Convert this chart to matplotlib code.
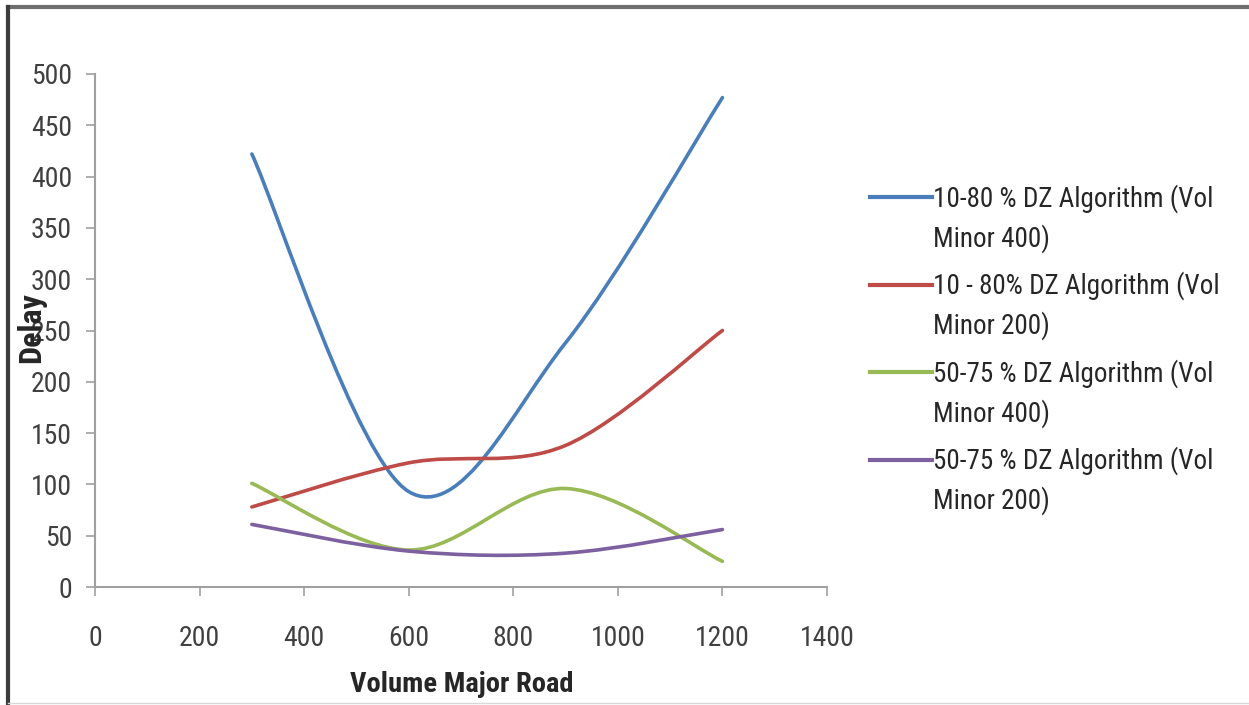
import matplotlib
matplotlib.use("Agg")
import matplotlib.pyplot as plt
from matplotlib.path import Path
from matplotlib.patches import PathPatch
from matplotlib.lines import Line2D
from matplotlib import font_manager

# volumes on the major road and delay for each run
volume_major = [300, 600, 900, 1200]
delay_1080_400 = [422, 93, 238, 477]
delay_1080_200 = [78, 121, 138, 250]
delay_5075_400 = [101, 36, 96, 25]
delay_5075_200 = [61, 35, 33, 56]

series_labels = [
    ["10-80 % DZ Algorithm (Vol", "Minor 400)"],
    ["10 - 80% DZ Algorithm (Vol", "Minor 200)"],
    ["50-75 % DZ Algorithm (Vol", "Minor 400)"],
    ["50-75 % DZ Algorithm (Vol", "Minor 200)"],
]
series_colors = ["#4a7ebb", "#be4b48", "#98b954", "#7d60a0"]
x_ticks = [0, 200, 400, 600, 800, 1000, 1200, 1400]
y_ticks = [0, 50, 100, 150, 200, 250, 300, 350, 400, 450, 500]

installed = {f.name for f in font_manager.fontManager.ttflist}
family = "Open Sans"
for name in ["Liberation Sans Narrow", "Roboto Condensed", "Lato"]:
    if name in installed:
        family = name
        break
plt.rcParams["font.family"] = [family, "DejaVu Sans"]

W, H = 1249, 705


def fx(px):
    return px / W


def fy(py):
    return 1 - py / H


# smooth curve through the points, drawn as cubic bezier segments
def smooth_path(xs, ys):
    pts = list(zip(xs, ys))
    verts = [pts[0]]
    codes = [Path.MOVETO]
    n = len(pts)
    for i in range(n - 1):
        p0 = pts[max(i - 1, 0)]
        p1 = pts[i]
        p2 = pts[i + 1]
        p3 = pts[min(i + 2, n - 1)]
        c1 = (p1[0] + (p2[0] - p0[0]) / 6, p1[1] + (p2[1] - p0[1]) / 6)
        c2 = (p2[0] - (p3[0] - p1[0]) / 6, p2[1] - (p3[1] - p1[1]) / 6)
        verts += [c1, c2, p2]
        codes += [Path.CURVE4] * 3
    return Path(verts, codes)


fig = plt.figure(figsize=(W / 100, H / 100), dpi=100)
ax = fig.add_axes([fx(95), fy(587), fx(732), 513 / H])

all_series = [delay_1080_400, delay_1080_200, delay_5075_400, delay_5075_200]
for values, color in zip(all_series, series_colors):
    patch = PathPatch(smooth_path(volume_major, values), facecolor="none",
                      edgecolor=color, linewidth=2.6, capstyle="round")
    ax.add_patch(patch)

ax.set_xlim(0, 1400)
ax.set_ylim(0, 500)
ax.set_xticks(x_ticks)
ax.set_yticks(y_ticks)
ax.tick_params(axis="both", colors="#a0a0a0", labelcolor="#404040",
               labelsize=20, length=6.5, width=1.2)
ax.tick_params(axis="x", pad=21)
ax.tick_params(axis="y", pad=10)
for side in ["top", "right"]:
    ax.spines[side].set_visible(False)
for side in ["left", "bottom"]:
    ax.spines[side].set_color("#a0a0a0")
    ax.spines[side].set_linewidth(1.5)

fig.text(fx(462), fy(685), "Volume Major Road", ha="center", va="center",
         fontsize=20.5, fontweight="bold", color="#262626")
fig.text(fx(31), fy(328), "Delay", ha="center", va="center", rotation=90,
         fontsize=23, fontweight="bold", color="#262626")

# legend: handle level with the first line of each two-line label
for i, (lines, color) in enumerate(zip(series_labels, series_colors)):
    first = 195 + i * 87.5
    fig.add_artist(Line2D([fx(870), fx(932)], [fy(first + 2), fy(first + 2)], color=color,
                          linewidth=3, transform=fig.transFigure))
    fig.text(fx(933), fy(first), lines[0], ha="left", va="center_baseline",
             fontsize=19.5, color="#262626")
    fig.text(fx(933), fy(first + 40), lines[1], ha="left", va="center_baseline",
             fontsize=19.5, color="#262626")

# frame around the chart area
fig.add_artist(Line2D([fx(8), 1], [fy(7), fy(7)], color="#6e6e6e",
                      linewidth=3, transform=fig.transFigure))
fig.add_artist(Line2D([fx(8), fx(8)], [0, fy(7)], color="#3c3c3c",
                      linewidth=3, transform=fig.transFigure))
fig.add_artist(Line2D([fx(8), 1], [fy(703), fy(703)], color="#d8d8d8",
                      linewidth=1, transform=fig.transFigure))

fig.savefig("out.png", dpi=100)
